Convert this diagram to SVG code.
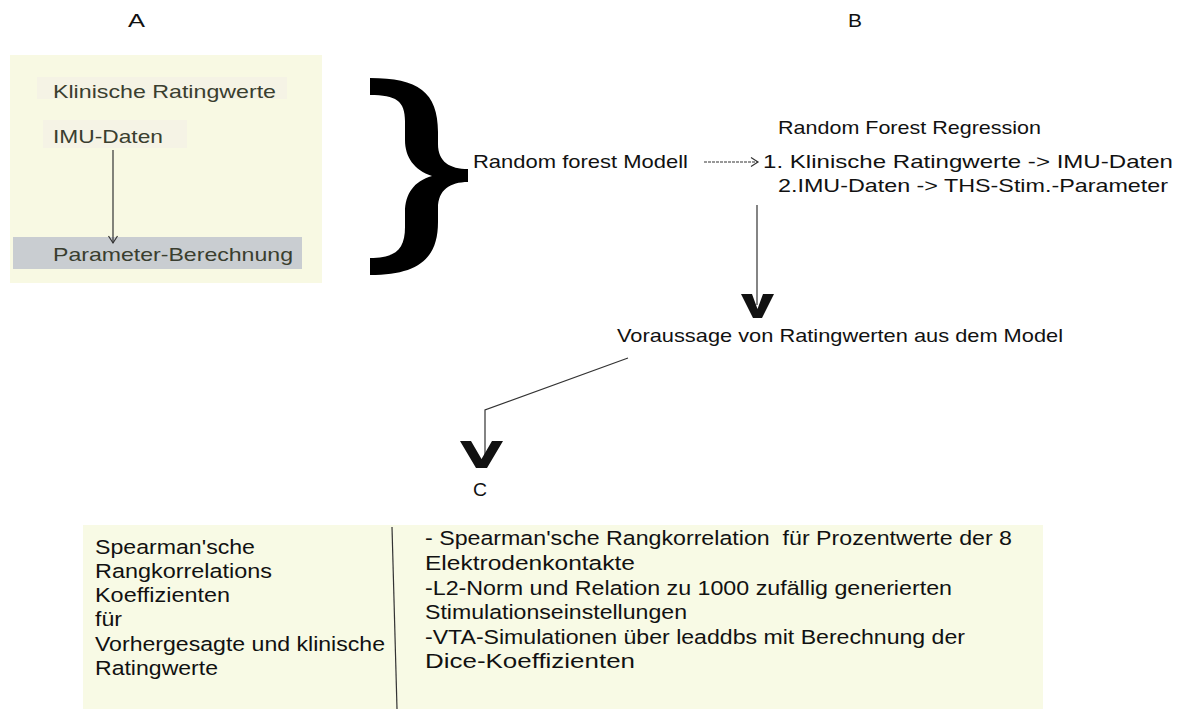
<svg xmlns="http://www.w3.org/2000/svg" width="1184" height="709" viewBox="0 0 1184 709">
<style>
text{font-family:"Liberation Sans",Arial,sans-serif;}
.lbl{font-size:19px;fill:#111;}
.pa{font-size:18.5px;fill:#3a3e2f;}
.main{font-size:19px;fill:#111;}
.bot{font-size:20.5px;fill:#111;}
.ln{fill:none;stroke:#333;stroke-width:1.2;}
.v{fill:#111;}
</style>
<defs>
<marker id="openArrow" markerWidth="12" markerHeight="12" refX="9" refY="6" orient="auto" markerUnits="userSpaceOnUse">
<path d="M2,1.5 L9,6 L2,10.5" fill="none" stroke="#333" stroke-width="1.2"/>
</marker>
</defs>
<rect width="1184" height="709" fill="#ffffff"/>

<text class="lbl" x="128" y="27" textLength="17" lengthAdjust="spacingAndGlyphs">A</text>
<text class="lbl" x="848" y="27" textLength="14" lengthAdjust="spacingAndGlyphs">B</text>

<g id="panelA">
<rect x="10" y="55" width="312" height="228" fill="#f8f9e3"/>
<g id="klinische">
<rect x="37" y="77" width="250" height="22" fill="#f5f3e5"/>
<text class="pa" x="53" y="98" textLength="223" lengthAdjust="spacingAndGlyphs">Klinische Ratingwerte</text>
</g>
<g id="imu">
<rect x="43" y="120" width="144" height="28" fill="#f5f3e5"/>
<text class="pa" x="53" y="143" textLength="110" lengthAdjust="spacingAndGlyphs">IMU-Daten</text>
</g>
<g id="parameter">
<rect x="13" y="237" width="289" height="32" fill="#c9cdd1"/>
<text class="pa" x="53" y="261" textLength="240" lengthAdjust="spacingAndGlyphs">Parameter-Berechnung</text>
</g>
</g>

<g id="brace">
<path d="M370,78 C418,78 438,92 438,132 L438,144 C438,162 450,169 468,169 L468,182 C450,182 438,190 438,208 L438,222 C438,259 418,275 370,275 L370,258 C396,258 405,249 405,227 L405,212 C405,194 414,181 432,176 C414,170 405,157 405,140 L405,121 C405,101 396,95 370,95 Z" fill="#000"/>
</g>

<g id="modell">
<text class="main" x="473" y="168" textLength="215" lengthAdjust="spacingAndGlyphs">Random forest Modell</text>
</g>

<g id="regression">
<text class="main" x="778" y="134" textLength="263" lengthAdjust="spacingAndGlyphs">Random Forest Regression</text>
<text class="main" x="763" y="168" textLength="410" lengthAdjust="spacingAndGlyphs">1. Klinische Ratingwerte -&gt; IMU-Daten</text>
<text class="main" x="778" y="192" textLength="390" lengthAdjust="spacingAndGlyphs">2.IMU-Daten -&gt; THS-Stim.-Parameter</text>
</g>

<g id="voraussage">
<text class="main" x="617" y="342" textLength="446" lengthAdjust="spacingAndGlyphs">Voraussage von Ratingwerten aus dem Model</text>
</g>

<g id="labelC">
<text class="lbl" x="473" y="496" textLength="14" lengthAdjust="spacingAndGlyphs">C</text>
</g>

<g id="panelC">
<rect x="83" y="525" width="960" height="184" fill="#f8fae5"/>
<g id="left" class="bot">
<text x="95" y="554" textLength="160" lengthAdjust="spacingAndGlyphs">Spearman'sche</text>
<text x="95" y="578" textLength="177" lengthAdjust="spacingAndGlyphs">Rangkorrelations</text>
<text x="95" y="602" textLength="135" lengthAdjust="spacingAndGlyphs">Koeffizienten</text>
<text x="95" y="626" textLength="27" lengthAdjust="spacingAndGlyphs">für</text>
<text x="95" y="650.5" textLength="290" lengthAdjust="spacingAndGlyphs">Vorhergesagte und klinische</text>
<text x="95" y="674.5" textLength="123" lengthAdjust="spacingAndGlyphs">Ratingwerte</text>
</g>
<line x1="392" y1="527" x2="397" y2="709" stroke="#333" stroke-width="1.2"/>
<g id="right" class="bot">
<text x="425" y="545" xml:space="preserve" textLength="587" lengthAdjust="spacingAndGlyphs">- Spearman'sche Rangkorrelation  für Prozentwerte der 8</text>
<text x="425" y="570" textLength="210" lengthAdjust="spacingAndGlyphs">Elektrodenkontakte</text>
<text x="425" y="594.5" textLength="527" lengthAdjust="spacingAndGlyphs">-L2-Norm und Relation zu 1000 zufällig generierten</text>
<text x="425" y="619" textLength="262" lengthAdjust="spacingAndGlyphs">Stimulationseinstellungen</text>
<text x="425" y="643.5" textLength="540" lengthAdjust="spacingAndGlyphs">-VTA-Simulationen über leaddbs mit Berechnung der</text>
<text x="425" y="668" textLength="210" lengthAdjust="spacingAndGlyphs">Dice-Koeffizienten</text>
</g>
</g>

<g id="connectors">
<line class="ln" x1="113" y1="150" x2="113" y2="243" marker-end="url(#openArrow)"/>
<line class="ln" x1="704" y1="162" x2="758" y2="162" stroke-dasharray="3,1" marker-end="url(#openArrow)"/>
<line class="ln" x1="757" y1="205" x2="757" y2="305"/>
<polygon class="v" points="741,294 752,294 757.5,309 763,294 774,294 762,318 753,318"/>
<polyline class="ln" points="628,358 485,410 485,455"/>
<polygon class="v" points="460,441 471,441 481.5,459 492,441 503,441 487,468 476,468"/>
</g>
</svg>
